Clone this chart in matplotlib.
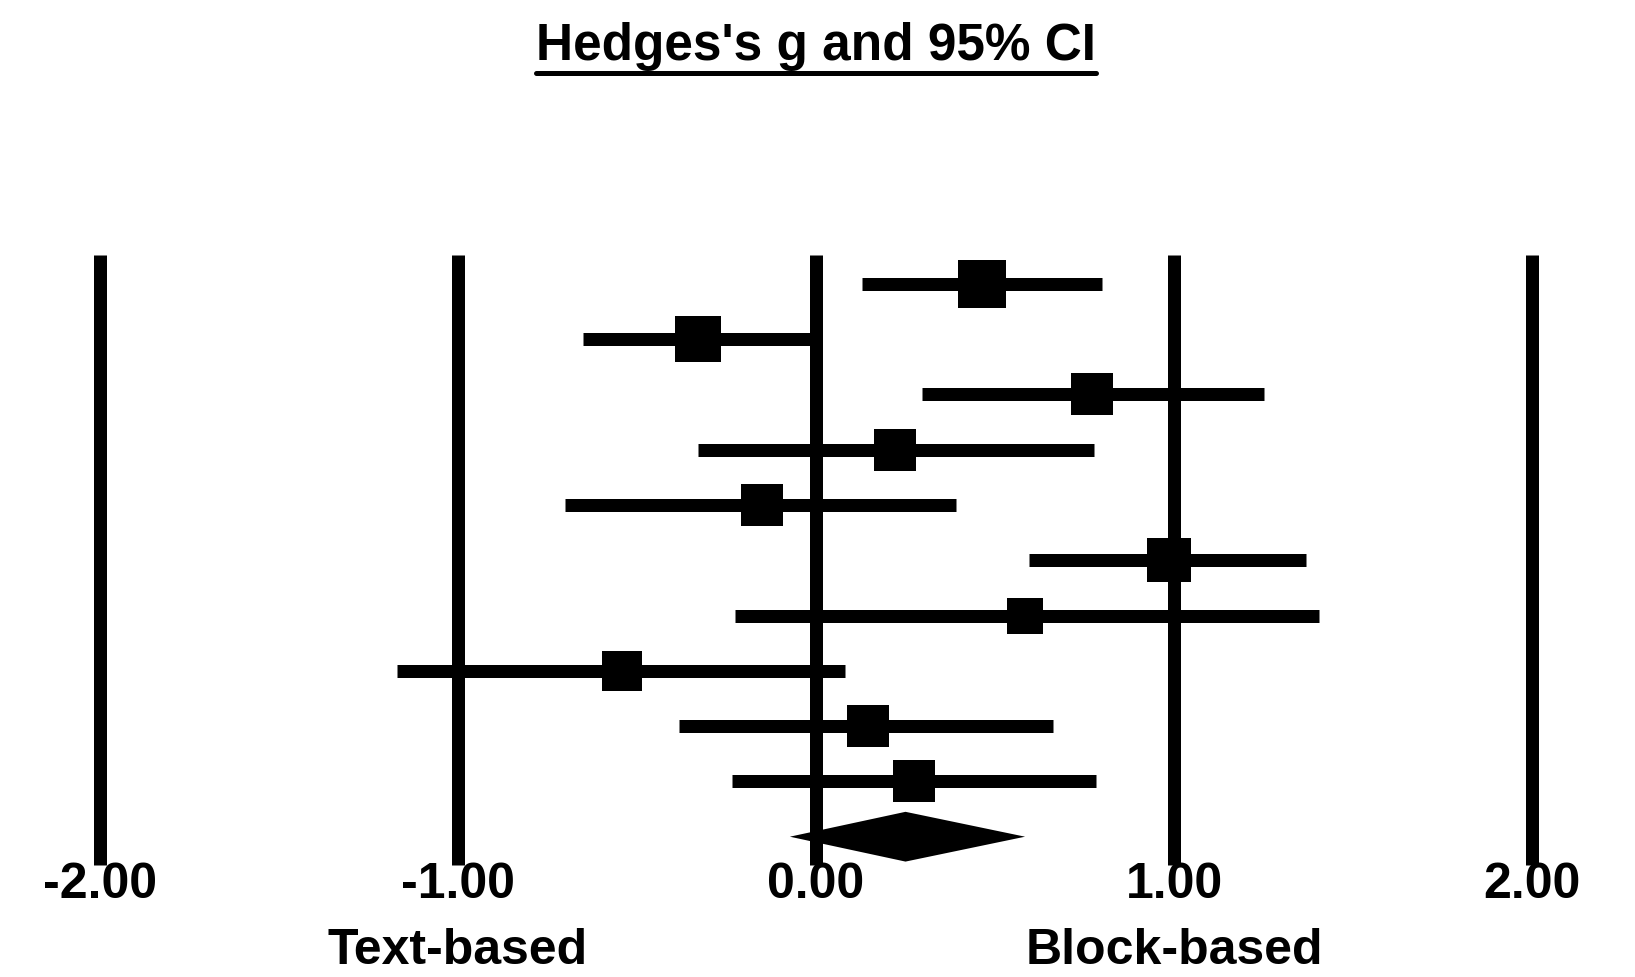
import matplotlib
matplotlib.use("Agg")
import matplotlib.pyplot as plt
from matplotlib.patches import Polygon
import numpy as np

# ---- data ----
effect = [0.465, -0.33, 0.77, 0.22, -0.15, 0.985, 0.585, -0.543, 0.145, 0.273]
lower = [0.128, -0.65, 0.296, -0.33, -0.70, 0.596, -0.226, -1.17, -0.382, -0.235]
upper = [0.80, -0.015, 1.25, 0.776, 0.39, 1.369, 1.404, 0.082, 0.661, 0.782]
weight = [12.6, 11.5, 10.1, 9.6, 10.1, 11.0, 7.1, 8.7, 9.6, 9.6]
summary_effect = 0.25
summary_lower = -0.073
summary_upper = 0.584
tick_values = [-2.0, -1.0, 0.0, 1.0, 2.0]
tick_labels = ["-2.00", "-1.00", "0.00", "1.00", "2.00"]
title = "Hedges's g and 95% CI"
left_label = "Text-based"
right_label = "Block-based"

# ---- layout ----
W, H, DPI = 1635, 978, 100
fig = plt.figure(figsize=(W / DPI, H / DPI), dpi=DPI)
ax = fig.add_axes([0, 0, 1, 1])
ax.axis("off")

x0_px, unit_px = 816.0, 358.0
row0_px, row_px = 284.7, 55.3
ax.set_xlim((0 - x0_px) / unit_px, (W - x0_px) / unit_px)
ax.set_ylim((H - row0_px) / row_px, (0 - row0_px) / row_px)

def ypx(p):
    return (p - row0_px) / row_px

px2pt = 72.0 / DPI
lw = 13 * px2pt
FONT = "Liberation Sans"

# grid lines
ax.vlines(tick_values, ypx(256), ypx(866), colors="black", linewidth=lw,
          capstyle="butt", zorder=1)

rows = np.arange(len(effect))
# CI lines
for i in rows:
    ax.plot([lower[i], upper[i]], [i, i], color="black", linewidth=lw,
            solid_capstyle="butt", zorder=2)
# squares
k = 48.0 / np.sqrt(12.6)
for i in rows:
    side_px = k * np.sqrt(weight[i])
    ax.plot(effect[i], i, marker="s", markersize=side_px * px2pt,
            color="black", markeredgewidth=0, linestyle="none", zorder=3)

# summary diamond
yd = len(effect)
half_h = 0.45
diamond = Polygon([[summary_lower, yd], [summary_effect, yd - half_h],
                   [summary_upper, yd], [summary_effect, yd + half_h]],
                  closed=True, facecolor="black", edgecolor="black",
                  linewidth=0, zorder=3)
ax.add_patch(diamond)

# tick labels
for v, lab in zip(tick_values, tick_labels):
    ax.text(v, ypx(898), lab, ha="center", va="baseline", fontsize=36,
            fontweight="bold", family=FONT, color="black", zorder=4)

ax.text(-1.0, ypx(964), left_label, ha="center", va="baseline", fontsize=36,
        fontweight="bold", family=FONT, color="black")
ax.text(1.0, ypx(964), right_label, ha="center", va="baseline", fontsize=36,
        fontweight="bold", family=FONT, color="black")

# title with underline
t = ax.text(0.0, ypx(60), title, ha="center", va="baseline", fontsize=37,
            fontweight="bold", family=FONT, color="black")
fig.canvas.draw()
bb = t.get_window_extent(renderer=fig.canvas.get_renderer())
inv = ax.transData.inverted()
(xa, _), (xb, _) = inv.transform([[bb.x0, 0], [bb.x1, 0]])
ax.plot([xa, xb], [ypx(74), ypx(74)], color="black", linewidth=5 * px2pt,
        solid_capstyle="round")

fig.savefig("out.png", dpi=DPI, facecolor="white")
